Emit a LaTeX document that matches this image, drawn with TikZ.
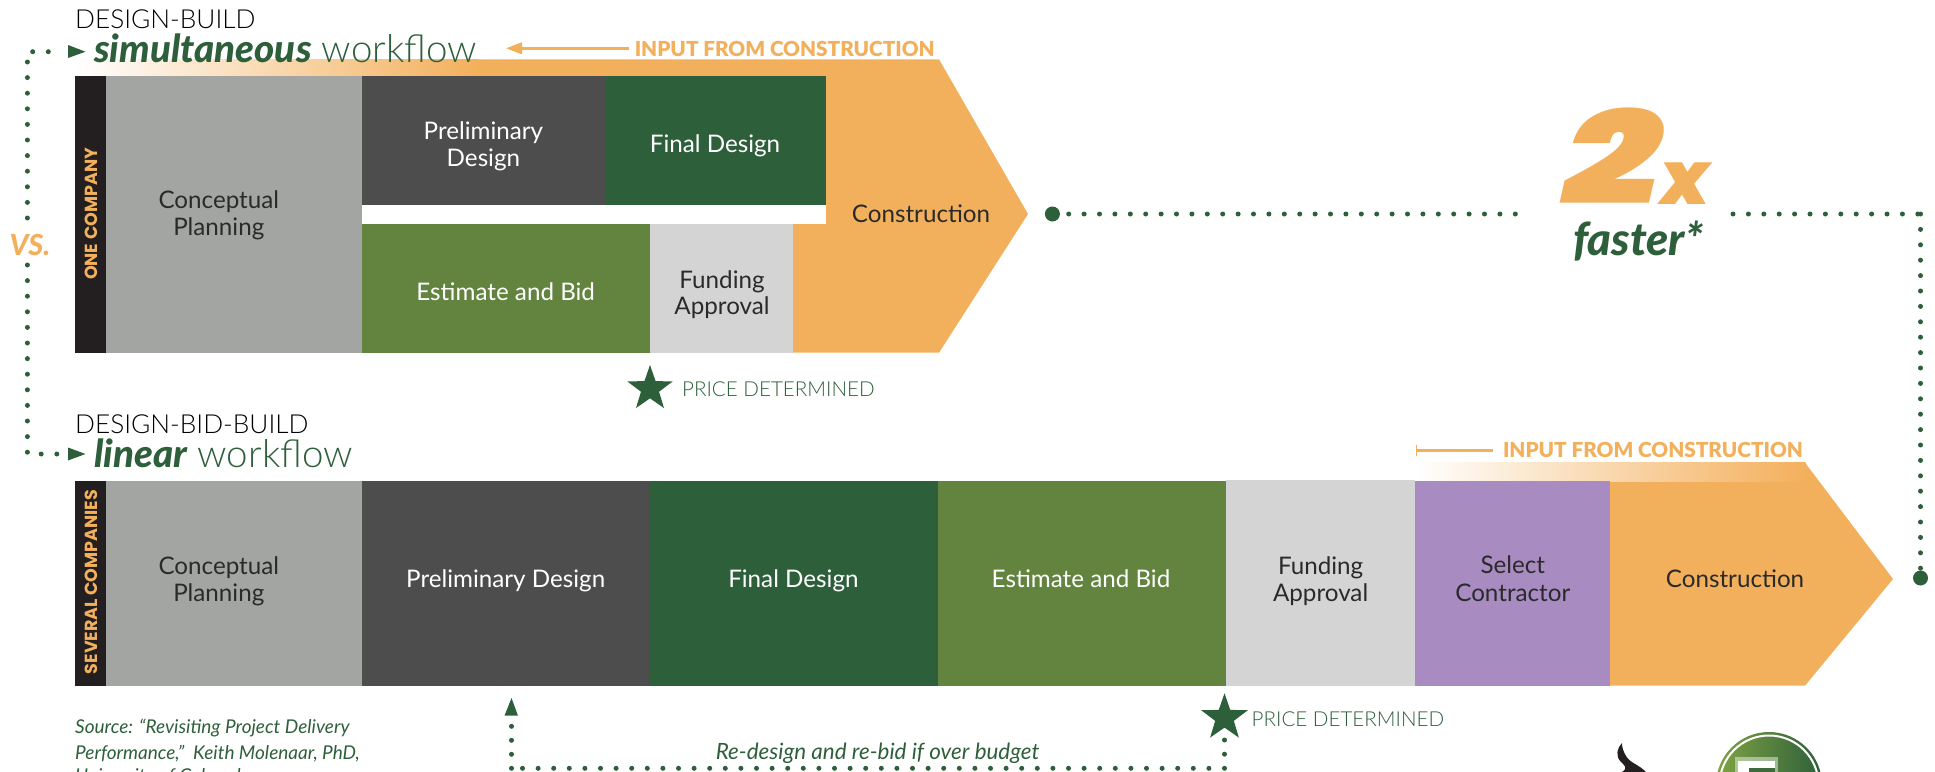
\documentclass[tikz,border=0pt]{standalone}
\usepackage{fontspec}
\usepackage{graphicx}
\usetikzlibrary{arrows.meta,shapes.geometric}
\setmainfont{Lato}
\newfontfamily\heavy{Poppins}[BoldItalicFont=Poppins Black Italic]
\newfontfamily\wide{Poppins}
\newfontfamily\lightf{Lato Light}
\newfontfamily\blackf{Lato Black}[ItalicFont=Lato Black Italic]
\definecolor{org}{HTML}{F3B05C}
\definecolor{grn}{HTML}{2E5F3B}
\definecolor{lgrn}{HTML}{62843F}
\definecolor{dkg}{HTML}{4D4D4D}
\definecolor{mid}{HTML}{A3A5A3}
\definecolor{lite}{HTML}{D4D4D4}
\definecolor{pur}{HTML}{A78BC1}
\definecolor{blk}{HTML}{231F20}
\definecolor{txt}{HTML}{2A2A2A}
\definecolor{logol}{HTML}{7FA443}
\tikzset{
 x=1pt,y=-1pt,
 lab/.style={inner sep=0pt,anchor=base,align=center,yshift=-1.6pt,font=\fontsize{24.2}{27.3}\selectfont},
 dk/.style={lab,text=txt},
 wh/.style={lab,text=white},
 blockfill/.style={fill=#1,draw=none},
 dots/.style={grn,line width=5pt,line cap=round,dash pattern=on 0pt off #1},
 dots/.default=15.5pt,
 head/.style={inner sep=0pt,anchor=base west,text=black,yshift=-1.6pt,font=\lightf\fontsize{26.2}{26}\selectfont},
 flow/.style={inner sep=0pt,anchor=base west,text=grn,yshift=-2.2pt,font=\lightf\fontsize{38.5}{38}\selectfont},
 inputlab/.style={inner sep=0pt,anchor=base west,text=org,yshift=-1.2pt,font=\blackf\fontsize{20.7}{20}\selectfont},
 side/.style={inner sep=0pt,rotate=90,text=org,font=\wide\fontsize{17.5}{18}\selectfont\bfseries},
 price/.style={inner sep=0pt,anchor=base west,text=grn,yshift=-1.6pt,font=\lightf\fontsize{20.6}{20}\selectfont},
 src/.style={inner sep=0pt,anchor=base west,text=grn,yshift=-1.6pt,font=\fontsize{19}{18}\selectfont\itshape},
 starshape/.style={star,star points=5,star point ratio=2.5,fill=grn,inner sep=0pt,minimum size=#1},
 bigdot/.style={circle,fill=grn,inner sep=0pt,minimum size=15pt},
}
\begin{document}
\begin{tikzpicture}
\useasboundingbox (0,0) rectangle (1935,771);
\clip (0,0) rectangle (1935,771);
% ---------- upper chevron
\fill[org] (478,59.3) -- (939,59.3) -- (1028,214) -- (939,352.7) -- (793,352.7) -- (793,76) -- (478,76) -- cycle;
\shade[left color=white,right color=org] (75,59.3) rectangle (478.5,76);
\fill[blockfill=blk] (75.3,76) rectangle (105.9,352.7);
\node[side] (onec) at (91,214) {ONE COMPANY};
\fill[blockfill=mid] (105.9,76) rectangle (362.2,352.7);
\fill[blockfill=dkg] (362.2,76) rectangle (604.6,204.7);
\fill[blockfill=grn] (604.6,76) rectangle (826,204.7);
\fill[white] (362.2,204.7) rectangle (826,224);
\fill[blockfill=lgrn] (362.2,224) rectangle (650,352.7);
\fill[blockfill=lite] (650,224) rectangle (793,352.7);
\node[dk] (a1) at (218.8,206.7) {Conceptual};
\node[dk] (a2) at (218.8,234) {Planning};
\node[wh] (b1) at (483.4,137.7) {Preliminary};
\node[wh] (b2) at (483.4,165) {Design};
\node[wh] (c) at (715,151) {Final Design};
\node[wh] (d) at (505.7,298.7) {Estimate and Bid};
\node[dk] (e1) at (722,286.7) {Funding};
\node[dk] (e2) at (722,313.3) {Approval};
\node[dk] (f) at (921,220.7) {Construction};
% ---------- lower chevron
\fill[org] (1610,481) -- (1805,481) -- (1805,462.7) -- (1893,579) -- (1805,685.7) -- (1610,685.7) -- cycle;
\shade[left color=white,right color=org] (1414.8,462.7) rectangle (1805.5,481);
\fill[blockfill=blk] (75.3,481) rectangle (105.9,685.7);
\node[side] (sevc) at (91,582) {SEVERAL COMPANIES};
\fill[blockfill=mid] (105.9,481) rectangle (362.2,685.7);
\fill[blockfill=dkg] (362.2,481) rectangle (648.6,685.7);
\fill[blockfill=grn] (648.6,481) rectangle (938,685.7);
\fill[blockfill=lgrn] (938,481) rectangle (1225.8,685.7);
\fill[blockfill=lite] (1225.8,480) rectangle (1414.8,685.7);
\fill[blockfill=pur] (1414.8,481) rectangle (1610,685.7);
\node[dk] (g1) at (218.8,572.7) {Conceptual};
\node[dk] (g2) at (218.8,600) {Planning};
\node[wh] (h) at (505.7,586) {Preliminary Design};
\node[wh] (i) at (793.4,586) {Final Design};
\node[wh] (j) at (1081,586) {Estimate and Bid};
\node[dk] (k1) at (1320.6,573) {Funding};
\node[dk] (k2) at (1320.6,600) {Approval};
\node[dk] (l1) at (1512.8,572) {Select};
\node[dk] (l2) at (1512.8,600) {Contractor};
\node[dk] (m) at (1735,586) {Construction};
% ---------- headings
\node[head] (t1) at (75,27) {DESIGN-BUILD};
\node[flow] (t2) at (94,60) {{\blackf\itshape simultaneous} workflow};
\node[head] (t3) at (75,432) {DESIGN-BID-BUILD};
\node[flow] (t4) at (94,465) {{\blackf\itshape linear} workflow};
\node[inputlab] (in1) at (634.6,55) {INPUT FROM CONSTRUCTION};
\node[inputlab] (in2) at (1502.8,456.7) {INPUT FROM CONSTRUCTION};
\coordinate (in1tip) at (506,48.3);
\draw[org,line width=2.5pt,-{Triangle[length=16pt,width=11.5pt]}] (in1.west |- in1tip) ++(-6,0) -- (in1tip);
\coordinate (in2end) at (1415.5,450.7);
\draw[org,line width=2.5pt,{Bar[width=11.5pt,line width=1.5pt]}-] (in2end) -- ([xshift=-10pt]in2.west |- in2end);
\node[inner sep=0pt,anchor=base,text=org,font=\blackf\fontsize{29}{29}\selectfont\itshape] (vs) at (30,255) {VS.};
% ---------- stars and prices
\node[starshape=47.6pt] (s1) at (650,388.8) {};
\node[price] (p1) at (682,395) {PRICE DETERMINED};
\node[starshape=49pt] (s2) at (1224.5,717.8) {};
\node[price] (p2) at (1251.5,725) {PRICE DETERMINED};
% ---------- big 2x
\node[inner sep=0pt,anchor=base west,text=org,font=\heavy\fontsize{133}{133}\selectfont\bfseries\itshape] (two) at (1563,204) {\scalebox{1.3}[1]{2}};
\node[inner sep=0pt,anchor=base west,text=org,font=\heavy\fontsize{74}{74}\selectfont\bfseries\itshape] (ex) at (1660,204) {x};
\node[inner sep=0pt,anchor=base west,text=grn,font=\blackf\fontsize{45.5}{45}\selectfont\itshape] (fst) at (1573,255) {faster*};
% ---------- dotted connectors
\coordinate (q1) at (27.4,51.7);
\coordinate (q2) at (27.4,218);
\coordinate (q3) at (27.4,265);
\coordinate (q4) at (27.4,454);
\coordinate (q5) at (60,51.7);
\coordinate (q6) at (60,454);
\draw[dots=15.6pt] (q2) -- (q1) -- (q5);
\draw[dots=15.6pt] (q3) -- (q4) -- (q6);
\fill[grn] (68,45) -- (85.5,51.7) -- (68,58) -- cycle;
\fill[grn] (68,447.5) -- (85.5,454) -- (68,460.5) -- cycle;
\node[bigdot] (dot1) at (1052.4,214) {};
\node[bigdot] (dot2) at (1920.5,578) {};
\coordinate (r1) at (1068.7,214);
\coordinate (r2) at (1520,214);
\coordinate (r3) at (1733,214);
\coordinate (r4) at (1920.5,214);
\coordinate (r5) at (1920.5,570);
\draw[dots=15.4pt] (r1) -- (r2);
\draw[dots=15.4pt] (r3) -- (r4);
\draw[dots=15.4pt] (r4) -- (r5);
\coordinate (u1) at (1224.5,740);
\coordinate (u2) at (1224.5,768.3);
\coordinate (u3) at (511.5,768.3);
\coordinate (u4) at (511.5,724);
\draw[dots=14.2pt] (u1) -- (u2);
\draw[dots=15.6pt] (u2) -- (u3);
\draw[dots=14pt] (u3) -- (u4);
\fill[grn] (511.5,698) -- (518,715.7) -- (504.5,715.7) -- cycle;
\node[src,font=\fontsize{22.4}{20}\selectfont\itshape] (re) at (715.6,758) {Re-design and re-bid if over budget};
% ---------- source
\node[src] (so1) at (75,731.7) {Source: “Revisiting Project Delivery};
\node[src] (so2) at (75,758.3) {Performance,”\ \ Keith Molenaar, PhD,};
\node[src] (so3) at (75,781) {University of Colorado};
% ---------- logos
\fill[blk] (1622,743) .. controls (1617,748) and (1615,756) .. (1621,762) .. controls (1625,766) and (1628,768) .. (1622,772) -- (1646,772) .. controls (1638,764) and (1630,763) .. (1626,756) .. controls (1623,751) and (1622,747) .. (1622,743) -- cycle;
\shade[left color=logol,right color=grn] (1769,785) circle (53);
\draw[white,line width=2pt] (1769,785) circle (49.5);
\fill[white,opacity=.45] (1735,756.7) rectangle (1778,775);
\fill[white] (1738,761) rectangle (1775,775);
\fill[grn!70!lgrn] (1749,767.5) rectangle (1775,775);
\end{tikzpicture}
\end{document}
